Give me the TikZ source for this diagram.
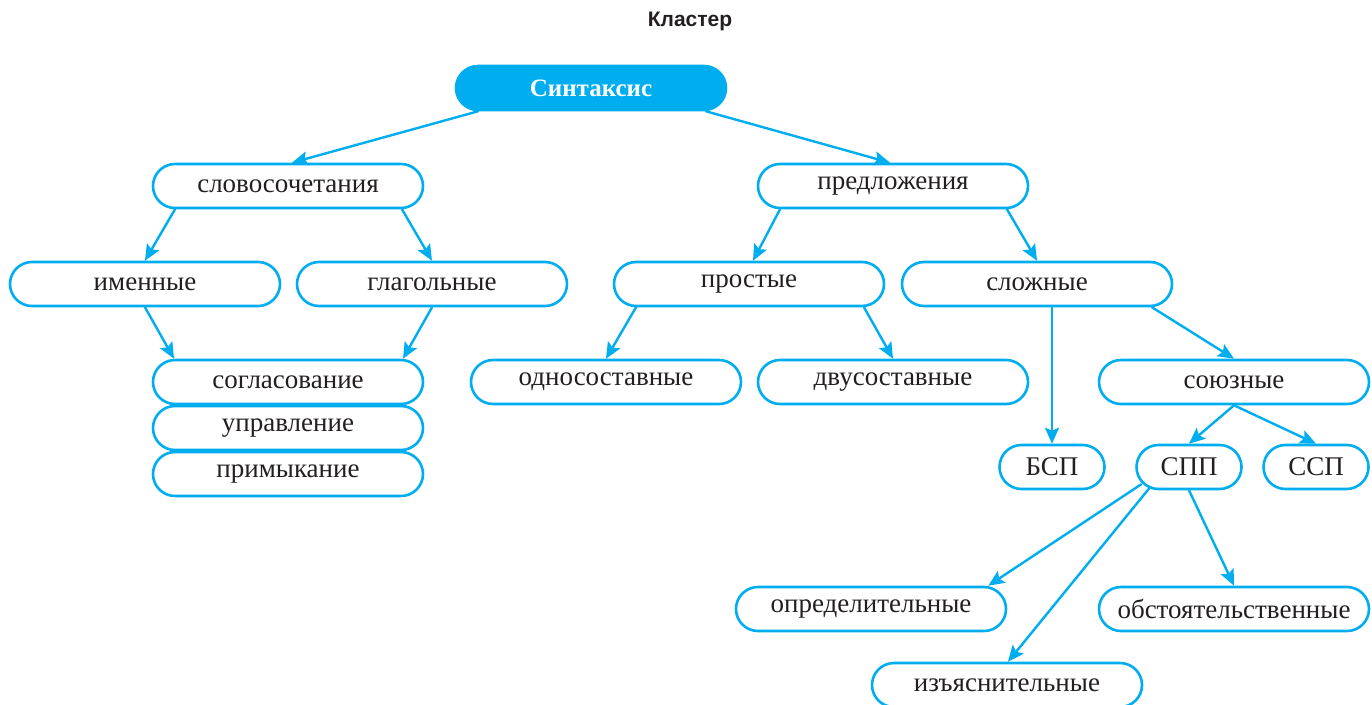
\documentclass[tikz,border=0pt]{standalone}
\usepackage{fontspec}
\setmainfont{Liberation Serif}
\newfontfamily\headfont{Liberation Sans}
\usetikzlibrary{arrows.meta}
\definecolor{cyanline}{HTML}{00AEEF}
\definecolor{darktext}{HTML}{231F20}
\begin{document}
\begin{tikzpicture}[x=1pt,y=-1pt,line join=round,line cap=round,
	>={Stealth[length=16pt,width=14pt,inset=3pt]},
	box/.style={draw=cyanline,line width=2.6pt,fill=white,rounded corners=22pt,
		minimum width=270pt,minimum height=44pt,inner sep=0pt,text=darktext,
		font=\fontsize{27}{31}\selectfont},
	smallbox/.style={box,minimum width=105pt},
	arr/.style={->,draw=cyanline,fill=cyanline,line width=2.4pt}]
	\useasboundingbox (0,0) rectangle (1372,704);
	%Tiêu đề
	\node[text=darktext,font=\headfont\bfseries\fontsize{21}{24}\selectfont] (title) at (690,21) {Кластер};
	\node[box,draw=cyanline,fill=cyanline,text=white,font=\bfseries\fontsize{25}{29}\selectfont] (syn) at (591,88) {Синтаксис};
	%Hàng thứ hai
	\node[box] (slov) at (288,186) {словосочетания};
	\node[box] (pred) at (893,186) {предложения};
	%Hàng thứ ba
	\node[box] (imen) at (145,284) {именные};
	\node[box] (glag) at (432,284) {глагольные};
	\node[box] (prost) at (749,284) {простые};
	\node[box] (slozh) at (1037,284) {сложные};
	%Hàng thứ tư
	\node[box] (sogl) at (288,382) {согласование};
	\node[box] (uprav) at (288,428) {управление};
	\node[box] (primyk) at (288,474) {примыкание};
	\node[box] (odno) at (606,382) {односоставные};
	\node[box] (dvu) at (893,382) {двусоставные};
	\node[box] (soyuz) at (1234,382) {союзные};
	\node[smallbox] (bsp) at (1052,467) {БСП};
	\node[smallbox] (spp) at (1189,467) {СПП};
	\node[smallbox] (ssp) at (1316,467) {ССП};
	\node[box] (opred) at (871,609) {определительные};
	\node[box] (obst) at (1234,609) {обстоятельственные};
	\node[box] (izyas) at (1007,685) {изъяснительные};
	%Các mũi tên
	\draw[arr] ([xshift=-113pt]syn.south) -- ([xshift=4pt]slov.north);
	\draw[arr] ([xshift=115pt]syn.south) -- ([xshift=-3pt]pred.north);
	\draw[arr] ([xshift=-113pt]slov.south) -- (imen.north);
	\draw[arr] ([xshift=114pt]slov.south) -- (glag.north);
	\draw[arr] (imen.south) -- ([xshift=-114pt]sogl.north);
	\draw[arr] (glag.south) -- ([xshift=115pt]sogl.north);
	\draw[arr] ([xshift=-113pt]pred.south) -- ([xshift=4pt]prost.north);
	\draw[arr] ([xshift=114pt]pred.south) -- (slozh.north);
	\draw[arr] ([xshift=-113pt]prost.south) -- (odno.north);
	\draw[arr] ([xshift=115pt]prost.south) -- (dvu.north);
	\draw[arr] ([xshift=15pt]slozh.south) -- (bsp.north);
	\draw[arr] ([xshift=115pt]slozh.south) -- (soyuz.north);
	\draw[arr] (soyuz.south) -- (spp.north);
	\draw[arr] (soyuz.south) -- (ssp.north);
	\draw[arr] ([xshift=6pt,yshift=6pt]spp.south west) -- ([xshift=-19pt]opred.north east);
	\draw[arr] ([xshift=14pt,yshift=2pt]spp.south west) -- ([xshift=1pt]izyas.north);
	\draw[arr] (spp.south) -- (obst.north);
\end{tikzpicture}
\end{document}
